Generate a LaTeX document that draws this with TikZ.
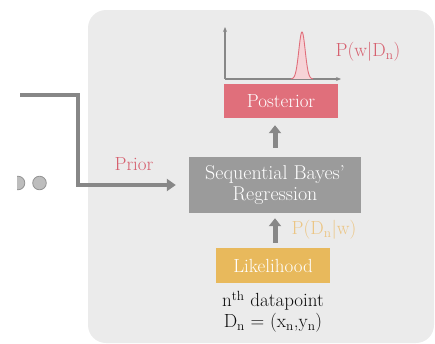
\documentclass[tikz,border=0pt]{standalone}
\usepackage{fontspec}
\usetikzlibrary{arrows.meta}
\definecolor{bgc}{HTML}{EBEBEB}
\definecolor{postc}{HTML}{E06F7B}
\definecolor{sbrc}{HTML}{9B9B9B}
\definecolor{likc}{HTML}{E8B95C}
\definecolor{redtxt}{HTML}{D65F6E}
\definecolor{orgtxt}{HTML}{EBC583}
\definecolor{connc}{HTML}{878787}
\definecolor{dotc}{HTML}{BDBDBD}
\definecolor{peakc}{HTML}{F6D3D7}
\begin{document}
\begin{tikzpicture}[x=1pt,y=-1pt,
  every node/.style={font=\fontsize{19}{21}\selectfont, inner sep=0pt},
  boxstyle/.style={text=white, align=center},
  bigarrow/.style={draw=connc, line width=5pt, -{Triangle[width=12pt,length=8pt]}},
  axisline/.style={draw=connc, line width=1.3pt, -{Stealth[length=5pt,width=4pt]}}
]
\useasboundingbox (0,0) rectangle (435,343);
\fill[bgc, rounded corners=18pt] (88,10) rectangle (434,343);

% boxes
\node[boxstyle, fill=postc, minimum width=114pt, minimum height=34pt] (post) at (281,101) {Posterior};
\node[boxstyle, fill=sbrc, minimum width=172pt, minimum height=56pt, font=\fontsize{20}{21}\selectfont] (sbr) at (275,185) {Sequential Bayes'\\Regression};
\node[boxstyle, fill=likc, minimum width=114pt, minimum height=35pt] (lik) at (273,265.5) {Likelihood};

% datapoint text
\node[text=black!95] (dp) at (273,301) {n\textsuperscript{th} datapoint};
\node[text=black!95] (dn) at (273,323) {D\textsubscript{n} = (x\textsubscript{n},y\textsubscript{n})};

% labels
\node[text=redtxt] (prior) at (134,164) {Prior};
\node[text=redtxt] (pw) at (368,52) {P(w|D\textsubscript{n})};
\node[text=orgtxt] (pd) at (324,230) {P(D\textsubscript{n}|w)};

% arrows between boxes
\draw[bigarrow, shorten <=9pt, shorten >=7pt] (sbr.north) -- (sbr.north |- post.south);
\draw[bigarrow, shorten <=5pt, shorten >=5pt] (lik.north -| sbr.south) -- (sbr.south);

% prior connector
\coordinate (pstart) at (20,95);
\coordinate (pcorner) at (78,95);
\draw[draw=connc, line width=4pt, -{Triangle[width=12pt,length=9pt]}, shorten >=13pt]
  (pstart) -- (pcorner) |- (sbr.west);

% dots
\begin{scope}
  \clip (17,170) rectangle (60,200);
  \filldraw[fill=dotc, draw=connc!90, line width=0.8pt] (18,183) circle (6.8pt);
  \filldraw[fill=dotc, draw=connc!90, line width=0.8pt] (39.5,183) circle (6.8pt);
\end{scope}

% axes
\coordinate (org) at (225,79);
\coordinate (ytop) at (225,27);
\coordinate (xend) at (341,79);
\draw[axisline] (org) -- (ytop);
\draw[axisline] (org) -- (xend);

% peak
\filldraw[fill=peakc, draw=postc, line width=0.9pt]
  plot[domain=291:313, samples=60, smooth] (\x, {79-47*exp(-((\x-302)^2)/(2*3.2^2))});
\end{tikzpicture}
\end{document}
